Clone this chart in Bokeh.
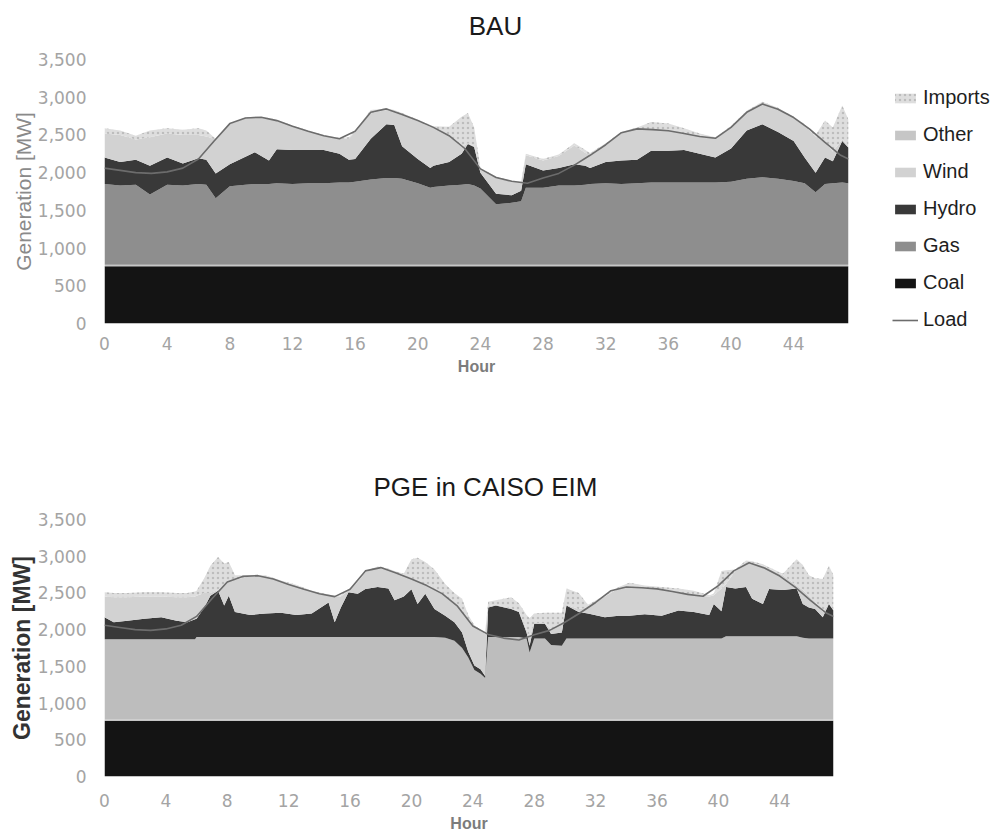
from bokeh.plotting import figure
from bokeh.models import ColumnDataSource, Legend, LegendItem, Range1d, NumeralTickFormatter, FixedTicker
from bokeh.layouts import column
from bokeh.core.properties import value
from bokeh.embed import file_html
from bokeh.resources import INLINE

# ---------------- data (MW) ----------------
series_names = ["Coal", "Other", "Gas", "Hydro", "Wind", "Imports"]
x_ticks = [0, 4, 8, 12, 16, 20, 24, 28, 32, 36, 40, 44]
y_ticks = [0, 500, 1000, 1500, 2000, 2500, 3000, 3500]
titles = ["BAU", "PGE in CAISO EIM"]

# Load (same in both scenarios)
load_hours = [0, 1, 2, 3, 4, 5, 6, 7, 8, 9, 10, 11, 12, 13, 14, 15, 16, 17, 18, 19,
              20, 21, 22, 23, 24, 25, 26, 27, 28, 29, 30, 31, 32, 33, 34, 35, 36, 37,
              38, 39, 40, 41, 42, 43, 44, 45, 46, 47, 47.5]
load_mw = [2060, 2030, 2000, 1990, 2010, 2060, 2180, 2420, 2650, 2725,
           2735, 2690, 2615, 2550, 2490, 2450, 2550, 2800, 2845, 2770,
           2690, 2600, 2490, 2320, 2050, 1935, 1885, 1860, 1930, 1990,
           2100, 2230, 2370, 2530, 2580, 2570, 2555, 2520, 2480, 2455,
           2600, 2800, 2910, 2840, 2730, 2580, 2400, 2230, 2180]

# BAU scenario
bau_hours = [0, 1, 2, 2.9, 4, 5, 6, 6.5, 7.1, 8,
             9, 9.6, 10.5, 11, 12, 13, 14, 15, 15.6, 16,
             17, 18, 18.5, 19, 20, 20.8, 21, 22, 22.8, 23.2,
             23.6, 24, 25, 26, 26.6, 26.9, 28, 29, 30, 30.7,
             31, 32, 33, 34, 34.9, 36, 37, 38, 39, 40,
             41, 42, 43, 44, 44.7, 45.4, 46, 46.5, 47.1, 47.5]
bau_coal = [760, 760, 760, 760, 760, 760, 760, 760, 760, 760,
            760, 760, 760, 760, 760, 760, 760, 760, 760, 760,
            760, 760, 760, 760, 760, 760, 760, 760, 760, 760,
            760, 760, 760, 760, 760, 760, 760, 760, 760, 760,
            760, 760, 760, 760, 760, 760, 760, 760, 760, 760,
            760, 760, 760, 760, 760, 760, 760, 760, 760, 760]
bau_other = [20, 20, 20, 20, 20, 20, 20, 20, 20, 20,
             20, 20, 20, 20, 20, 20, 20, 20, 20, 20,
             20, 20, 20, 20, 20, 20, 20, 20, 20, 20,
             20, 20, 20, 20, 20, 20, 20, 20, 20, 20,
             20, 20, 20, 20, 20, 20, 20, 20, 20, 20,
             20, 20, 20, 20, 20, 20, 20, 20, 20, 20]
bau_gas = [1070, 1050, 1060, 930, 1060, 1050, 1070, 1060, 880, 1040,
           1060, 1070, 1070, 1080, 1070, 1080, 1080, 1090, 1090, 1100,
           1130, 1150, 1150, 1140, 1080, 1020, 1030, 1050, 1060, 1070,
           1050, 1010, 800, 820, 840, 1020, 1020, 1050, 1050, 1060,
           1070, 1080, 1070, 1080, 1090, 1090, 1090, 1090, 1090, 1100,
           1140, 1160, 1140, 1110, 1080, 960, 1070, 1080, 1090, 1080]
bau_hydro = [350, 310, 330, 380, 360, 290, 340, 330, 330, 290,
             370, 420, 310, 450, 450, 440, 440, 380, 300, 300,
             540, 710, 700, 430, 320, 260, 280, 310, 410, 530,
             510, 210, 140, 100, 140, 310, 230, 230, 280, 250,
             210, 280, 310, 310, 420, 420, 430, 380, 330, 440,
             640, 700, 620, 530, 340, 260, 350, 290, 550, 470]
bau_wind = [320, 360, 270, 380, 320, 380, 310, 310, 450, 530,
            510, 465, 555, 380, 315, 250, 190, 200, 280, 360,
            340, 190, 180, 420, 500, 550, 510, 350, 90, 10,
            10, 40, 210, 180, 110, 120, 130, 160, 250, 170,
            180, 240, 370, 410, 285, 265, 220, 230, 255, 280,
            240, 270, 300, 310, 420, 480, 200, 130, 20, 20]
bau_imports = [70, 60, 50, 90, 70, 70, 90, 80, 10, 10,
               10, 10, 10, 10, 10, 10, 10, 10, 20, 20,
               40, 20, 20, 20, 20, 20, 15, 120, 400, 400,
               250, 20, 20, 10, 10, 20, 20, 20, 30, 40,
               20, 10, 10, 20, 95, 95, 70, 40, 15, 20,
               20, 30, 20, 10, 20, 20, 290, 320, 450, 350]

# PGE in CAISO EIM scenario
eim_hours = [0, 0.6, 1.5, 2.6, 3.7, 4.7, 5.4, 5.9, 6.0, 6.5,
             6.9, 7.4, 7.8, 8.1, 8.5, 9.5, 10.5, 11.5, 12.5, 13.5,
             14.6, 15, 15.4, 15.9, 16.5, 17, 17.8, 18.5, 18.9, 19.5,
             20, 20.4, 20.9, 21.5, 22.2, 22.8, 23.3, 23.7, 24.1, 24.5,
             24.8, 25, 25.5, 26.5, 27, 27.5, 27.7, 28, 28.7, 29.1,
             29.8, 30.1, 30.9, 31.5, 32.6, 33.5, 34.2, 35.2, 36.3, 37.4,
             38.4, 39.4, 39.7, 40.2, 40.5, 41.1, 41.8, 42.2, 42.9, 43.3,
             44.2, 45.1, 45.5, 45.9, 46.3, 46.8, 47.2, 47.5]
eim_coal = [760, 760, 760, 760, 760, 760, 760, 760, 760, 760,
            760, 760, 760, 760, 760, 760, 760, 760, 760, 760,
            760, 760, 760, 760, 760, 760, 760, 760, 760, 760,
            760, 760, 760, 760, 760, 760, 760, 760, 760, 760,
            760, 760, 760, 760, 760, 760, 760, 760, 760, 760,
            760, 760, 760, 760, 760, 760, 760, 760, 760, 760,
            760, 760, 760, 760, 760, 760, 760, 760, 760, 760,
            760, 760, 760, 760, 760, 760, 760, 760]
eim_other = [20, 20, 20, 20, 20, 20, 20, 20, 20, 20,
             20, 20, 20, 20, 20, 20, 20, 20, 20, 20,
             20, 20, 20, 20, 20, 20, 20, 20, 20, 20,
             20, 20, 20, 20, 20, 20, 20, 20, 20, 20,
             20, 20, 20, 20, 20, 20, 20, 20, 20, 20,
             20, 20, 20, 20, 20, 20, 20, 20, 20, 20,
             20, 20, 20, 20, 20, 20, 20, 20, 20, 20,
             20, 20, 20, 20, 20, 20, 20, 20]
eim_gas = [1090, 1090, 1090, 1090, 1090, 1090, 1090, 1090, 1120, 1120,
           1120, 1120, 1120, 1120, 1120, 1120, 1120, 1120, 1120, 1120,
           1120, 1120, 1120, 1120, 1120, 1120, 1120, 1120, 1120, 1120,
           1120, 1120, 1120, 1120, 1110, 1070, 970, 840, 670, 620,
           560, 1120, 1120, 1120, 1120, 1100, 910, 1100, 1100, 1010,
           1000, 1100, 1100, 1100, 1100, 1100, 1100, 1100, 1100, 1100,
           1100, 1100, 1100, 1100, 1130, 1130, 1130, 1130, 1130, 1130,
           1130, 1130, 1110, 1100, 1100, 1100, 1100, 1100]
eim_hydro = [300, 230, 250, 280, 300, 250, 230, 270, 250, 400,
             560, 630, 430, 560, 340, 300, 320, 330, 300, 320,
             470, 200, 400, 610, 590, 655, 680, 660, 500, 550,
             650, 450, 590, 380, 300, 250, 210, 80, 60, 60,
             30, 400, 430, 380, 340, 80, 90, 200, 200, 150,
             180, 450, 360, 340, 290, 310, 310, 330, 310, 380,
             360, 320, 470, 370, 670, 650, 670, 510, 440, 645,
             630, 650, 460, 420, 400, 290, 470, 380]
eim_wind = [280, 340, 320, 300, 280, 320, 340, 310, 310, 200,
            40, 10, 270, 200, 440, 530, 510, 430, 400, 300,
            100, 350, 150, 20, 160, 225, 265, 260, 380, 290,
            140, 300, 130, 290, 270, 260, 290, 450, 530, 530,
            575, 20, 10, 10, 10, 40, 120, 10, 10, 60,
            120, 10, 40, 80, 280, 370, 390, 360, 365, 250,
            230, 250, 120, 310, 40, 240, 340, 490, 520, 275,
            200, 40, 190, 160, 100, 70, 10, 10]
eim_imports = [60, 60, 60, 60, 60, 60, 60, 70, 70, 200,
               370, 450, 300, 260, 60, 10, 10, 10, 10, 10,
               10, 10, 20, 20, 10, 20, 15, 10, 20, 20,
               270, 330, 300, 250, 160, 140, 170, 50, 20, 10,
               15, 60, 60, 150, 110, 200, 260, 130, 140, 230,
               150, 220, 220, 40, 20, 20, 60, 30, 25, 50,
               60, 20, 20, 240, 190, 20, 20, 20, 20, 20,
               20, 360, 340, 280, 320, 450, 510, 470]

# ---------------- styling ----------------
TICK_FONT = "DejaVu Sans"
TEXT_FONT = "Liberation Sans"
TITLE_W = 880  # title strip (its frame is aligned with the chart frames by the column)


def make_title(text, height, cx, cy_from_top):
    t = figure(frame_width=TITLE_W, frame_height=height, x_range=Range1d(0, TITLE_W),
               y_range=Range1d(0, height), output_backend="svg",
               toolbar_location=None, min_border=0,
               x_axis_location=None, y_axis_location=None)
    t.grid.visible = False
    t.outline_line_color = None
    t.text(x=[cx], y=[height - cy_from_top], text=[text], text_align="center",
           text_baseline="middle", text_font=value(TEXT_FONT),
           text_font_size="26px", text_color="#1a1a1a")
    return t


def make_chart(hours, values, gas_color, frame_w, frame_h, borders,
               ylabel_style, ylabel_color, ylabel_size, x_label_standoff):
    data = {"hours": hours}
    for name, vals in zip(series_names, values):
        data[name] = vals
    src = ColumnDataSource(data)
    lsrc = ColumnDataSource({"h": load_hours, "mw": load_mw})

    left, right, top, bottom = borders
    p = figure(frame_width=frame_w, frame_height=frame_h,
               x_range=Range1d(0, 47.5), y_range=Range1d(0, 3500),
               output_backend="svg", toolbar_location=None,
               min_border_left=left, min_border_right=right,
               min_border_top=top, min_border_bottom=bottom,
               background_fill_color="white", border_fill_color="white")
    p.outline_line_color = None
    p.xgrid.visible = False
    p.ygrid.visible = False

    colors = ["#141414", "#c6c6c6", gas_color, "#393939", "#d2d2d2", "#dedede"]
    rs = p.varea_stack(series_names, x="hours", source=src, fill_color=colors,
                       hatch_pattern=[" ", " ", " ", " ", " ", "."],
                       hatch_color="#bdbdbd", hatch_scale=5, hatch_weight=1)
    lr = p.line("h", "mw", source=lsrc, line_color="#6c6c6c", line_width=1.6)

    p.xaxis.ticker = FixedTicker(ticks=x_ticks)
    p.yaxis.ticker = FixedTicker(ticks=y_ticks)
    p.yaxis.formatter = NumeralTickFormatter(format="0,0")
    for ax in (p.xaxis, p.yaxis):
        ax.axis_line_color = None
        ax.major_tick_line_color = None
        ax.minor_tick_line_color = None
        ax.major_label_text_font = TICK_FONT
        ax.major_label_text_font_size = "17px"
        ax.major_label_text_color = "#a4a4a4"
    p.yaxis.major_label_standoff = 12
    p.xaxis.major_label_standoff = x_label_standoff

    p.yaxis.axis_label = "Generation [MW]"
    p.yaxis.axis_label_text_font = TEXT_FONT
    p.yaxis.axis_label_text_font_size = ylabel_size
    p.yaxis.axis_label_text_font_style = ylabel_style
    p.yaxis.axis_label_text_color = ylabel_color
    p.yaxis.axis_label_standoff = 0

    p.xaxis.axis_label = "Hour"
    p.xaxis.axis_label_text_font = TEXT_FONT
    p.xaxis.axis_label_text_font_size = "16px"
    p.xaxis.axis_label_text_font_style = "bold"
    p.xaxis.axis_label_text_color = "#7c7c7c"
    p.xaxis.axis_label_standoff = 5
    return p, rs, lr


t1 = make_title(titles[0], 45, 391, 25)
p1, rs1, lr1 = make_chart(bau_hours,
                          [bau_coal, bau_other, bau_gas, bau_hydro, bau_wind, bau_imports],
                          "#8e8e8e", 744, 264, (104, 148, 14, 67),
                          "normal", "#8a8a8a", "21px", 7)

legend = Legend(items=[
    LegendItem(label="Imports", renderers=[rs1[5]]),
    LegendItem(label="Other", renderers=[rs1[1]]),
    LegendItem(label="Wind", renderers=[rs1[4]]),
    LegendItem(label="Hydro", renderers=[rs1[3]]),
    LegendItem(label="Gas", renderers=[rs1[2]]),
    LegendItem(label="Coal", renderers=[rs1[0]]),
    LegendItem(label="Load", renderers=[lr1]),
], location=(44, -8))
legend.background_fill_alpha = 0
legend.border_line_alpha = 0
legend.padding = 0
legend.margin = 0
legend.spacing = 14
legend.glyph_width = 26
legend.glyph_height = 12
legend.label_height = 23
legend.label_standoff = 5
legend.label_text_font = TEXT_FONT
legend.label_text_font_size = "20px"
legend.label_text_color = "#1e1e1e"
p1.add_layout(legend, "right")

t2 = make_title(titles[1], 110, 381, 96)
p2, rs2, lr2 = make_chart(eim_hours,
                          [eim_coal, eim_other, eim_gas, eim_hydro, eim_wind, eim_imports],
                          "#bdbdbd", 729, 257, (101, 160, 19, 54),
                          "bold", "#333333", "23px", 11)

layout = column(t1, p1, t2, p2, spacing=0)
open("out.html", "w").write(file_html(layout, INLINE))
